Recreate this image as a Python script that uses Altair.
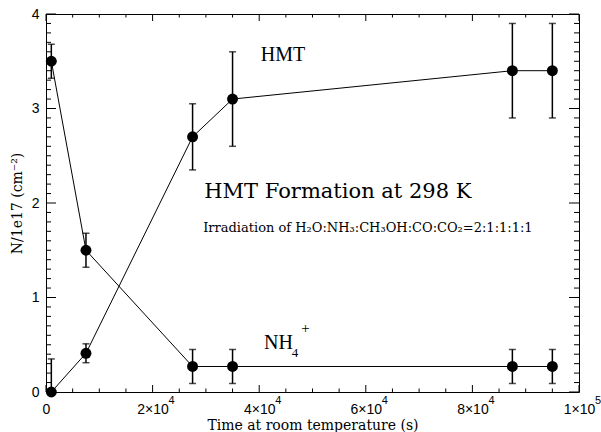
import altair as alt
import pandas as pd

# ---- data ----
time_s = [1000, 7500, 27500, 35000, 87500, 95000]
nh4 = [3.50, 1.50, 0.27, 0.27, 0.27, 0.27]
nh4_err = [0.18, 0.18, 0.18, 0.18, 0.18, 0.18]
hmt = [0.00, 0.41, 2.70, 3.10, 3.40, 3.40]
hmt_err = [0.35, 0.10, 0.35, 0.50, 0.50, 0.50]

x_major = [0, 20000, 40000, 60000, 80000, 100000]
x_tick_labels = ["0", "2×10", "4×10", "6×10", "8×10", "1×10"]
x_tick_exponents = ["", "4", "4", "4", "4", "5"]
x_minor = [v for v in range(5000, 100000, 5000) if v % 20000 != 0]
y_major = [0, 1, 2, 3, 4]
y_minor = [round(i / 10, 1) for i in range(1, 40) if i % 10 != 0]

serif_labels = ["HMT", "NH", "4", "+"]
serif_x = [40300, 40900, 46100, 47900]
serif_y = [3.50, 0.46, 0.37, 0.62]
serif_size = [20, 20, 13, 15]

title_labels = ["HMT Formation at 298 K", "Irradiation of H₂O:NH₃:CH₃OH:CO:CO₂=2:1:1:1:1"]
title_x = [29700, 29500]
title_y = [2.05, 1.69]
title_size = [21, 13]

W, H = 533, 378

rows = []
for name, vals, errs in [("NH4", nh4, nh4_err), ("HMT", hmt, hmt_err)]:
    for t, v, e in zip(time_s, vals, errs):
        rows.append({"series": name, "t": t, "v": v, "lo": v - e, "hi": v + e})
df = pd.DataFrame(rows)

xs = alt.Scale(domain=[0, 100000], nice=False, zero=False)
ys = alt.Scale(domain=[0, 4], nice=False, zero=False)

label_expr = "[" + ",".join("'" + s + "'" for s in x_tick_labels) + "][round(datum.value/20000)]"

x_axis = alt.Axis(
    values=x_major, labelExpr=label_expr, ticks=False, tickSize=0, grid=False, domain=False,
    labelFont="Liberation Sans", labelFontSize=14, labelColor="black", labelPadding=10,
    labelFlush=False, labelOverlap=False,
    title="Time at room temperature (s)", titleFont="DejaVu Serif", titleFontSize=14,
    titleFontWeight="normal", titleColor="black", titlePadding=2,
)
y_axis = alt.Axis(
    values=y_major, format="d", ticks=False, tickSize=0, grid=False, domain=False,
    labelFont="Liberation Sans", labelFontSize=14, labelColor="black", labelPadding=7,
    labelFlush=False, labelOverlap=False,
    title="N/1e17 (cm⁻²)", titleFont="DejaVu Serif", titleFontSize=14,
    titleFontWeight="normal", titleColor="black", titlePadding=7,
)


def X(field):
    return alt.X(field, scale=xs, axis=x_axis)


def Y(field):
    return alt.Y(field, scale=ys, axis=y_axis)


base = alt.Chart(df)

lines = base.mark_line(color="black", strokeWidth=1).encode(
    x=X("t:Q"), y=Y("v:Q"), detail="series:N",
)
err = base.mark_rule(color="black", strokeWidth=1.5, clip=True).encode(
    x=X("t:Q"), y=Y("lo:Q"), y2="hi:Q",
)
cap_hi = base.mark_tick(color="black", orient="horizontal", size=7, thickness=1.5, clip=True).encode(
    x=X("t:Q"), y=Y("hi:Q"),
)
cap_lo = base.mark_tick(color="black", orient="horizontal", size=7, thickness=1.5, clip=True).encode(
    x=X("t:Q"), y=Y("lo:Q"),
)
dots = base.mark_circle(color="black", opacity=1, size=120).encode(
    x=X("t:Q"), y=Y("v:Q"),
)


def xticks(vals, length):
    d = alt.Chart(pd.DataFrame({"x": vals}))
    bot = d.mark_rule(color="black", strokeWidth=1).encode(
        x=X("x:Q"), y=alt.value(H), y2=alt.value(H - length))
    top = d.mark_rule(color="black", strokeWidth=1).encode(
        x=X("x:Q"), y=alt.value(0), y2=alt.value(length))
    return [bot, top]


def yticks(vals, length):
    d = alt.Chart(pd.DataFrame({"y": vals}))
    left = d.mark_rule(color="black", strokeWidth=1).encode(
        y=Y("y:Q"), x=alt.value(0), x2=alt.value(length))
    right = d.mark_rule(color="black", strokeWidth=1).encode(
        y=Y("y:Q"), x=alt.value(W), x2=alt.value(W - length))
    return [left, right]


exp_df = pd.DataFrame({"x": x_major, "e": x_tick_exponents})
exponents = alt.Chart(exp_df).mark_text(
    font="Liberation Sans", fontSize=11, align="left", baseline="middle", color="black", dx=16
).encode(
    x=X("x:Q"), y=alt.value(H + 9), text="e:N",
)

serif_df = pd.DataFrame({"text": serif_labels, "x": serif_x, "y": serif_y, "s": serif_size})
serif_text = alt.Chart(serif_df).mark_text(
    font="Liberation Serif", align="left", baseline="alphabetic", color="black"
).encode(
    x=X("x:Q"), y=Y("y:Q"),
    text="text:N", size=alt.Size("s:Q", scale=None),
)
title_df = pd.DataFrame({"text": title_labels, "x": title_x, "y": title_y, "s": title_size})
title_text = alt.Chart(title_df).mark_text(
    font="DejaVu Serif", align="left", baseline="alphabetic", color="black"
).encode(
    x=X("x:Q"), y=Y("y:Q"),
    text="text:N", size=alt.Size("s:Q", scale=None),
)

layers = [lines, err, cap_hi, cap_lo, dots]
layers += xticks(x_major, 7) + xticks(x_minor, 3.5)
layers += yticks(y_major, 10) + yticks(y_minor, 5)
layers += [exponents, serif_text, title_text]

chart = alt.layer(*layers).properties(
    width=W, height=H,
    autosize=alt.AutoSizeParams(type="none"),
    padding={"left": 46, "top": 14, "right": 22, "bottom": 40},
    background="white",
).configure_view(
    stroke="black", strokeWidth=1
).configure_axis(
    titleFont="DejaVu Serif", titleFontSize=14, titleFontWeight="normal", titleColor="black",
    labelFont="Liberation Sans", labelFontSize=14, labelColor="black",
)

chart.save("out.html", embed_options={"renderer": "svg", "actions": False})
